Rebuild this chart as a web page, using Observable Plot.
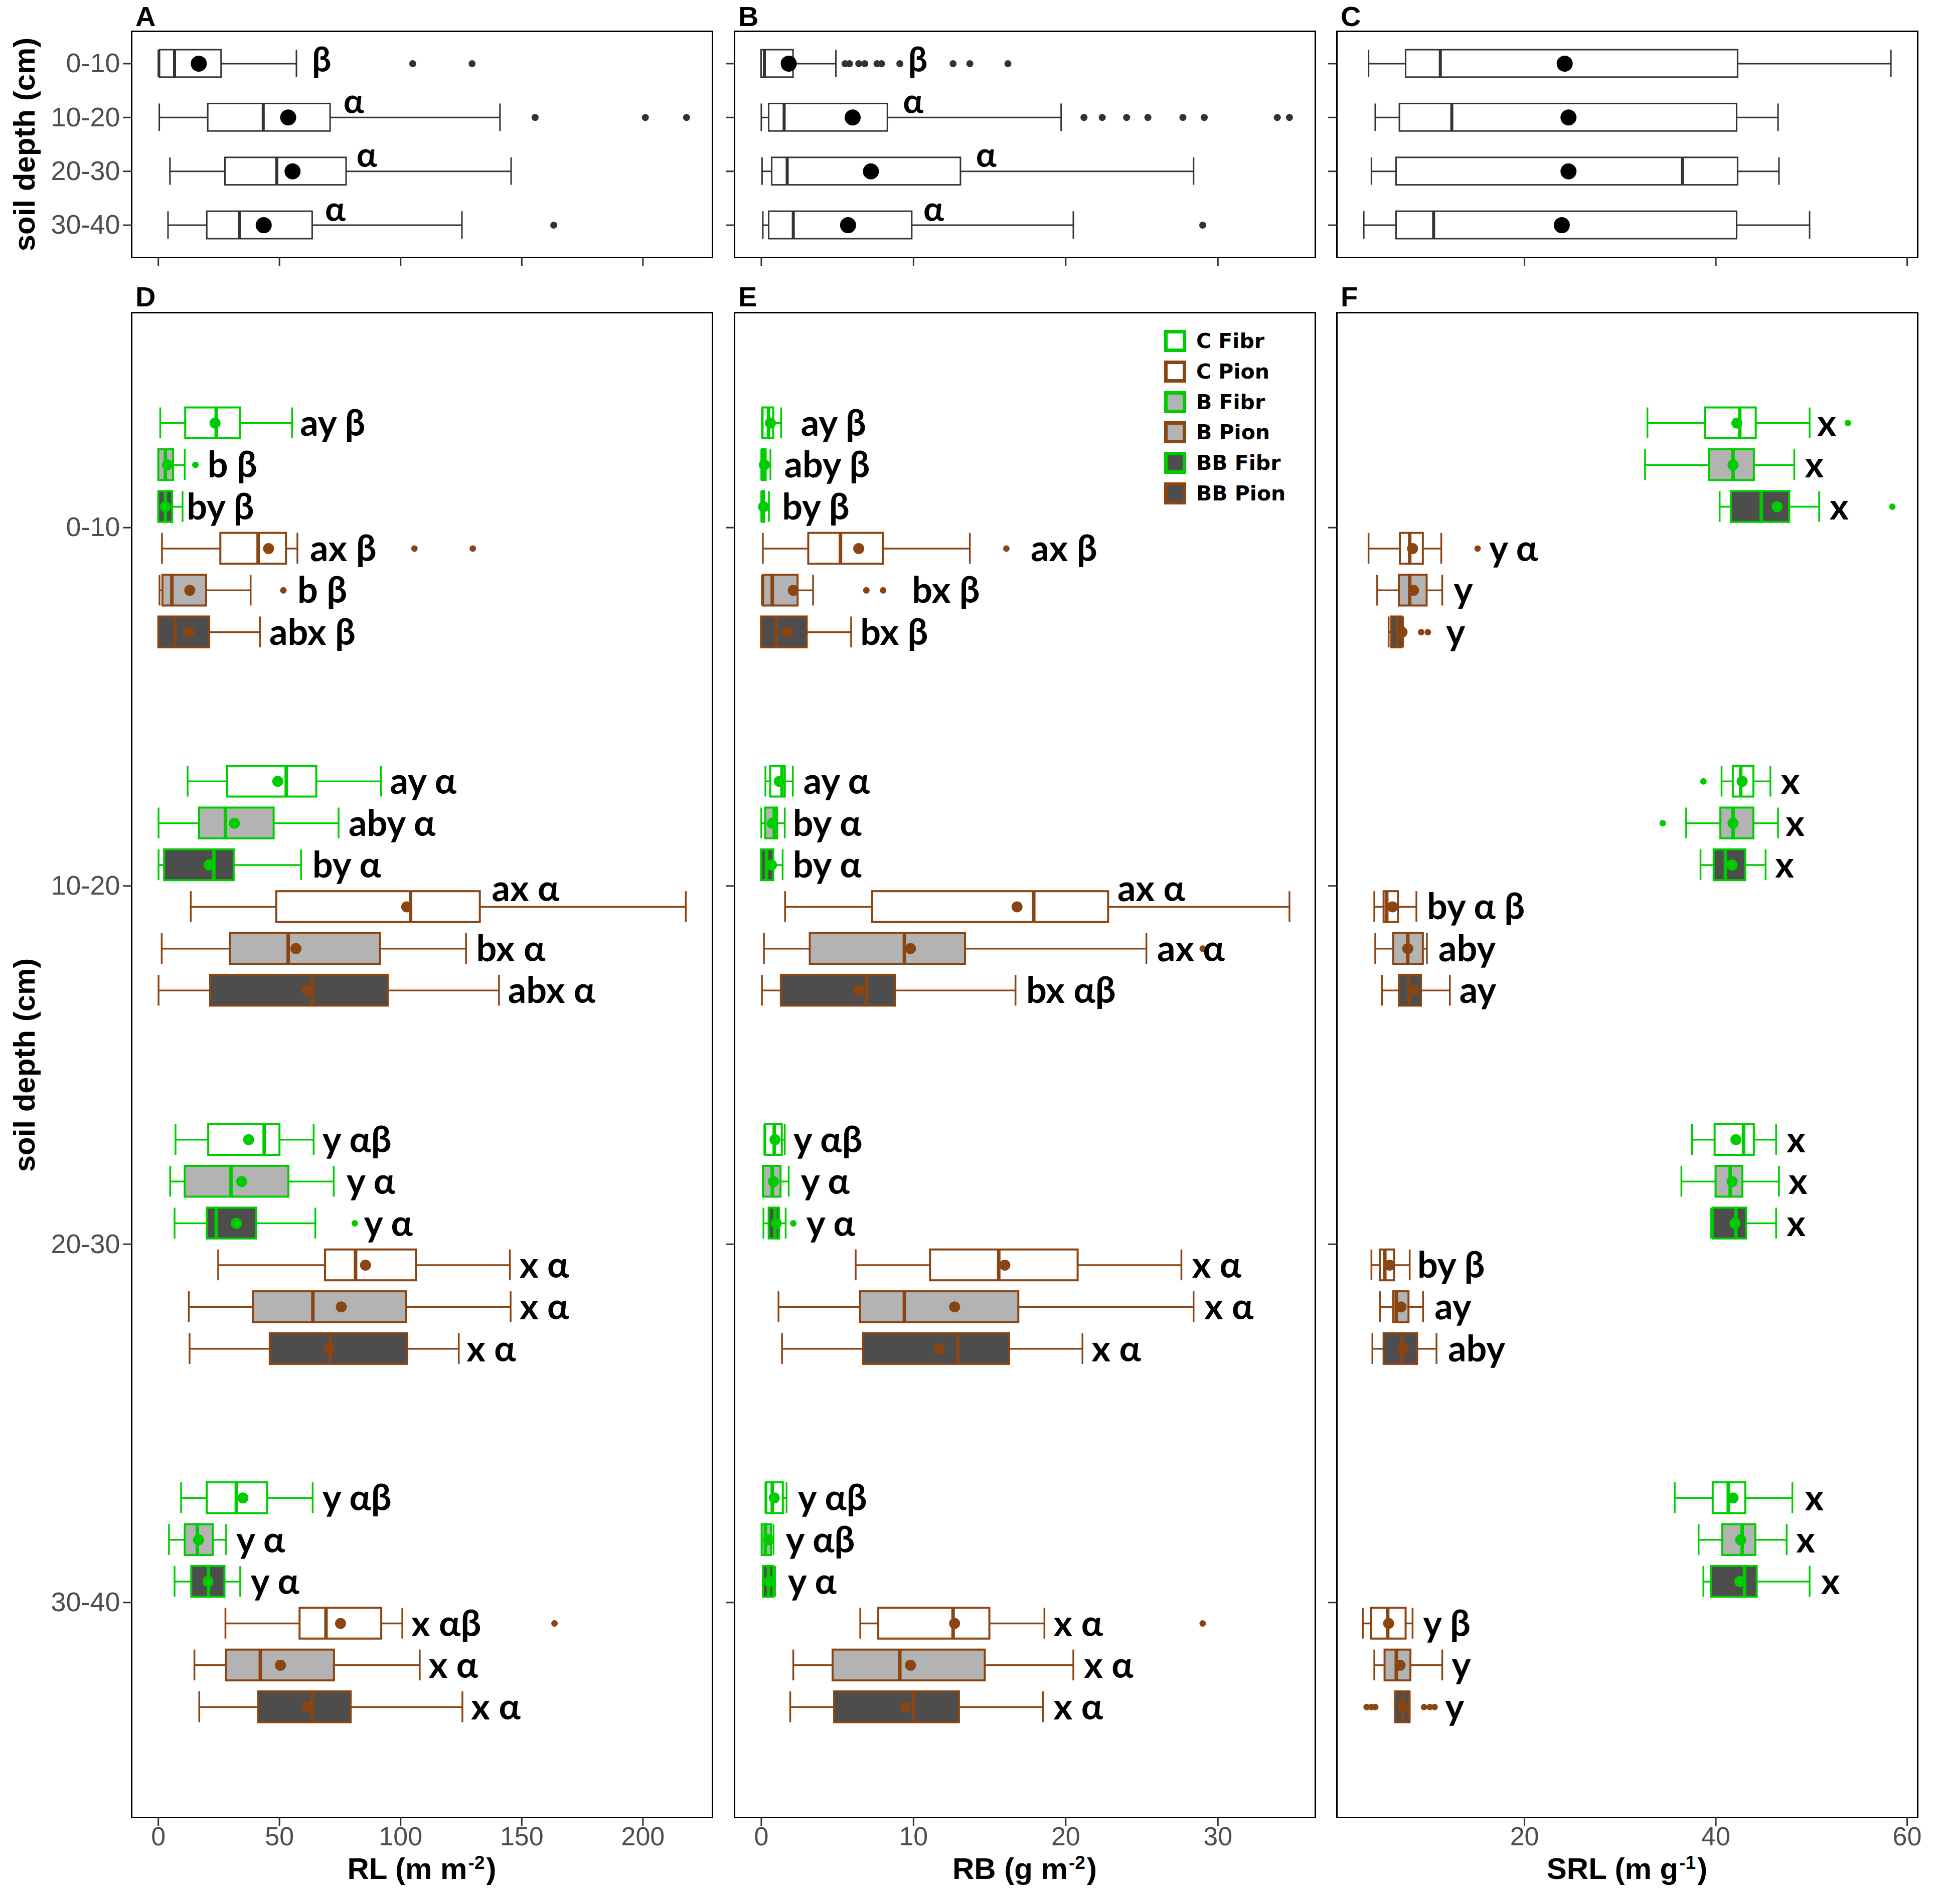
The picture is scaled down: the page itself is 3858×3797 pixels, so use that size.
<!DOCTYPE html>
<html>
<head>
<meta charset="utf-8">
<script src="https://cdn.jsdelivr.net/npm/d3@7"></script>
<script src="https://cdn.jsdelivr.net/npm/@observablehq/plot@0.6"></script>
<style>
  html, body { margin: 0; padding: 0; background: #fff; }
  #root { position: relative; width: 3858px; height: 3797px; background: #fff; overflow: hidden;
          font-family: "Liberation Sans", Arial, sans-serif; color: #000; }
  .pan { position: absolute; }
  .pan svg { overflow: visible; }
  .letter { position: absolute; font-weight: bold; font-size: 56px; line-height: 1; transform: translateY(-50%); }
  .xtitle { position: absolute; font-weight: bold; font-size: 60px; white-space: nowrap; transform: translate(-50%, -50%); line-height: 1; }
  .xtitle .sup { display: inline-block; font-size: 0.62em; line-height: 1; position: relative; top: -0.55em; margin: 0 3px 0 2px; }
  .ytitle { position: absolute; font-weight: bold; font-size: 60px; white-space: nowrap; line-height: 1;
            transform: translate(-50%, -50%) rotate(-90deg); }
  .legend { position: absolute; font-family: "DejaVu Sans", Verdana, sans-serif; font-weight: bold; font-size: 41px; }
  .legend .item { position: absolute; display: flex; align-items: center; white-space: nowrap; transform: translateY(-50%); }
  .legend svg { display: block; margin-right: 20px; }
</style>
</head>
<body>
<div id="root"></div>
<script>
// ---------------- data ----------------
const depths = ["0-10", "10-20", "20-30", "30-40"];
const groups = ["C Fibr", "B Fibr", "BB Fibr", "C Pion", "B Pion", "BB Pion"];
const groupTreatment = ["C", "B", "BB", "C", "B", "BB"];
const groupSpecies = ["Fibr", "Fibr", "Fibr", "Pion", "Pion", "Pion"];
const legendOrder = ["C Fibr", "C Pion", "B Fibr", "B Pion", "BB Fibr", "BB Pion"];

// box statistics: [lower whisker, Q1, median, Q3, upper whisker, mean]
// ---- pooled by depth (panels A, B, C)
const rlPooledStats = [[0, 0.6, 6.7, 26, 57, 16.7], [0.4, 20.5, 43.3, 71, 141, 53.6], [4.8, 27.6, 48.9, 77.6, 145.6, 55.4], [4, 20.1, 33.5, 63.6, 125.3, 43.5]];
const rlPooledOutliers = [[105, 129.5], [155.5, 201, 218], [], [163.2]];
const rlPooledLetters = ["β", "α", "α", "α"];
const rlPooledLetterAt = [63.4, 76.4, 81.8, 68.8];

const rbPooledStats = [[0, 0, 0.2, 2.1, 4.9, 1.8], [0, 0.5, 1.5, 8.3, 19.7, 6.0], [0.05, 0.7, 1.7, 13.1, 28.4, 7.2], [0.1, 0.5, 2.1, 9.9, 20.5, 5.7]];
const rbPooledOutliers = [[5.5, 5.8, 6.4, 6.8, 7.6, 7.9, 9.1, 12.6, 13.7, 16.2], [21.2, 22.4, 24.0, 25.4, 27.7, 29.1, 33.9, 34.7], [], [29.0]];
const rbPooledLetters = ["β", "α", "α", "α"];
const rbPooledLetterAt = [9.65, 9.3, 14.1, 10.65];

const srlPooledStats = [[3.7, 7.6, 11.2, 42.3, 58.3, 24.2], [4.4, 6.95, 12.4, 42.2, 46.5, 24.6], [4.0, 6.6, 36.5, 42.3, 46.6, 24.6], [3.2, 6.6, 10.5, 42.2, 49.8, 23.9]];
const srlPooledOutliers = [[], [], [], []];
const srlPooledLetters = ["", "", "", ""];
const srlPooledLetterAt = [0, 0, 0, 0];

// ---- by treatment x species (panels D, E, F); rows follow `groups`
const rlStats = [
  [[0.8, 11.2, 23.9, 33.8, 55.2, 23.4], [0.1, 0.1, 2.9, 6.2, 10.9, 3.8], [0.1, 0.1, 2.9, 5.8, 10.0, 2.9], [1.5, 25.7, 41.2, 52.8, 57.4, 45.5], [0.5, 1.8, 5.6, 19.8, 38.1, 13.0], [0.1, 0.1, 6.9, 21.1, 42.0, 12.5]],
  [[12.1, 28.5, 52.8, 65.3, 91.9, 49.3], [0.1, 16.9, 27.7, 47.7, 74.4, 31.4], [0.1, 2.5, 22.9, 31.2, 58.9, 21.0], [13.4, 48.8, 104.1, 132.8, 217.7, 102.5], [1.4, 29.6, 53.6, 91.6, 127.0, 56.8], [0.1, 21.5, 63.6, 94.8, 140.6, 61.3]],
  [[7.1, 20.7, 43.7, 50.1, 64.1, 37.3], [4.9, 11.0, 30.0, 53.8, 72.4, 34.4], [6.7, 20.1, 23.9, 40.5, 64.8, 32.2], [24.7, 68.9, 81.4, 106.4, 145.1, 85.5], [12.6, 39.2, 63.8, 102.3, 145.4, 75.5], [12.9, 46.1, 71.0, 102.8, 124.0, 70.5]],
  [[9.4, 20.1, 32.2, 45.0, 63.7, 34.9], [4.4, 11.0, 16.1, 22.6, 28.0, 16.6], [6.7, 13.7, 20.7, 27.4, 33.8, 20.5], [27.7, 58.4, 69.2, 92.1, 100.7, 75.2], [14.9, 28.0, 42.1, 72.6, 107.9, 50.4], [16.9, 41.3, 63.6, 79.5, 125.5, 61.6]]
];
const rlOutliers = [
  [[], [15.3], [], [105.7, 129.8], [51.6], []],
  [[], [], [], [], [], []],
  [[], [], [81.1], [], [], []],
  [[], [], [], [163.5], [], []]
];
const rlLetters = [
  ["ay β", "b β", "by β", "ax β", "b β", "abx β"],
  ["ay α", "aby α", "by α", "ax α", "bx α", "abx α"],
  ["y αβ", "y α", "y α", "x α", "x α", "x α"],
  ["y αβ", "y α", "y α", "x αβ", "x α", "x α"]
];
const rlLetterAt = [
  [58.5, 20.3, 11.7, 62.6, 57.4, 45.8],
  [95.6, 78.5, 63.6, 137.6, 131.2, 144.3],
  [67.7, 77.7, 84.9, 149.1, 149.1, 127.2],
  [67.7, 32.2, 38.1, 104.4, 111.6, 129.1]
];

const rbStats = [
  [[0.04, 0.1, 0.47, 0.8, 1.3, 0.6], [0, 0.05, 0.15, 0.3, 0.6, 0.2], [0, 0.05, 0.1, 0.2, 0.5, 0.15], [0.1, 3.1, 5.2, 8.0, 13.7, 6.4], [0.04, 0.14, 0.72, 2.4, 3.4, 2.1], [0, 0, 1.0, 3.0, 5.9, 1.7]],
  [[0.27, 0.6, 1.36, 1.56, 2.07, 1.18], [0, 0.27, 0.85, 1.05, 1.54, 0.72], [0, 0, 0.34, 0.8, 1.4, 0.67], [1.56, 7.3, 17.9, 22.8, 34.7, 16.8], [0.17, 3.2, 9.4, 13.4, 25.3, 9.8], [0.04, 1.3, 6.9, 8.8, 16.7, 6.4]],
  [[0.2, 0.27, 0.85, 1.36, 1.54, 0.9], [0.1, 0.14, 0.72, 1.28, 1.8, 0.8], [0.14, 0.5, 0.9, 1.18, 1.6, 0.98], [6.2, 11.1, 15.6, 20.8, 27.6, 16.0], [1.13, 6.5, 9.4, 16.9, 28.4, 12.7], [1.36, 6.7, 12.9, 16.3, 21.1, 11.7]],
  [[0.27, 0.34, 0.72, 1.43, 1.66, 0.85], [0.04, 0.04, 0.27, 0.65, 0.8, 0.47], [0.1, 0.14, 0.47, 0.8, 0.9, 0.52], [6.5, 7.7, 12.6, 15.0, 18.6, 12.7], [2.1, 4.7, 9.1, 14.7, 20.5, 9.8], [1.9, 4.8, 10.0, 13.0, 18.5, 9.5]]
];
const rbOutliers = [
  [[], [], [], [16.1], [6.9, 8.0], []],
  [[], [], [], [], [29.0], []],
  [[], [], [2.1], [], [], []],
  [[], [], [], [29.0], [], []]
];
const rbLetters = [
  ["ay β", "aby β", "by β", "ax β", "bx β", "bx β"],
  ["ay α", "by α", "by α", "ax α", "ax α", "bx αβ"],
  ["y αβ", "y α", "y α", "x α", "x α", "x α"],
  ["y αβ", "y αβ", "y α", "x α", "x α", "x α"]
];
const rbLetterAt = [
  [2.6, 1.5, 1.36, 17.7, 9.9, 6.5],
  [2.76, 2.07, 2.07, 23.4, 26.0, 17.4],
  [2.1, 2.6, 2.96, 28.3, 29.1, 21.7],
  [2.4, 1.6, 1.74, 19.2, 21.2, 19.2]
];

const srlStats = [
  [[32.85, 38.9, 42.5, 44.2, 49.8, 42.2], [32.6, 39.3, 41.8, 44.0, 48.2, 41.8], [40.4, 41.6, 44.75, 47.7, 50.8, 46.4], [3.7, 7.0, 8.0, 9.4, 11.3, 8.3], [4.6, 6.9, 8.0, 9.8, 11.4, 8.4], [5.8, 6.1, 6.7, 7.2, 7.3, 7.2]],
  [[40.6, 41.8, 42.6, 43.95, 45.7, 42.75], [36.9, 40.5, 41.8, 43.95, 46.5, 41.8], [38.4, 39.8, 41.0, 43.1, 45.2, 41.7], [4.3, 5.3, 5.6, 6.8, 8.7, 6.2], [4.4, 6.3, 7.8, 9.4, 9.8, 7.8], [5.1, 6.9, 7.9, 9.2, 12.2, 8.4]],
  [[37.5, 39.9, 42.9, 44.0, 46.3, 42.1], [36.4, 40.0, 41.5, 42.8, 46.6, 41.7], [39.5, 39.7, 42.1, 43.2, 46.3, 42.0], [4.0, 4.9, 5.4, 6.4, 8.0, 5.9], [4.9, 6.3, 6.6, 7.9, 9.4, 7.1], [4.1, 5.3, 7.2, 8.8, 10.8, 7.3]],
  [[35.7, 39.7, 41.3, 43.1, 48.0, 41.8], [38.2, 40.7, 42.75, 44.15, 47.4, 42.6], [38.7, 39.5, 43.0, 44.3, 49.8, 42.5], [3.1, 4.0, 5.7, 7.6, 8.3, 5.8], [4.3, 5.4, 6.6, 8.1, 11.4, 7.0], [6.5, 6.5, 7.3, 8.0, 8.0, 7.3]]
];
const srlOutliers = [
  [[53.8], [], [58.45], [15.1], [], [9.2, 9.9]],
  [[38.7], [34.45], [], [], [], []],
  [[], [], [], [], [], []],
  [[], [], [], [], [], [3.5, 4.0, 4.4, 9.5, 10.1, 10.6]]
];
const srlLetters = [
  ["x", "x", "x", "y α", "y", "y"],
  ["x", "x", "x", "by α β", "aby", "ay"],
  ["x", "x", "x", "by β", "ay", "aby"],
  ["x", "x", "x", "y β", "y", "y"]
];
const srlLetterAt = [
  [50.6, 49.3, 51.9, 16.3, 12.6, 11.8],
  [46.8, 47.3, 46.2, 9.8, 11.0, 13.2],
  [47.4, 47.6, 47.4, 8.8, 10.6, 12.0],
  [49.3, 48.4, 51.0, 9.4, 12.4, 11.7]
];

// letters that sit above their box rather than beside it
const raisedLetters = ["RL|10-20|C Pion", "RB|10-20|C Pion"];

// axis ticks
const rlTicks = [0, 50, 100, 150, 200];
const rbTicks = [0, 10, 20, 30];
const srlTicks = [20, 40, 60];

// ---------------- layout / style ----------------
const SLOT = 0.1167;      // dodge step between the six boxes of one depth
const HALF = 0.043;       // half box thickness (bottom panels)
const HALF_TOP = 0.255;   // half box thickness (top panels)
const GREEN = "#00CD00", BROWN = "#8B4513";
const colorScale = {domain: ["Fibr", "Pion", "C", "B", "BB"], range: [GREEN, BROWN, "#FFFFFF", "#B3B3B3", "#4D4D4D"]};

const cols = [{left: 262, w: 1158}, {left: 1464, w: 1158}, {left: 2665, w: 1158}];
const topRow = {top: 62, h: 451};
const botRow = {top: 623, h: 3001};

const root = document.getElementById("root");

function pooledRows(stats, outs, letters, at) {
  const rows = [], outRows = [];
  depths.forEach((d, di) => {
    const [lo, q1, med, q3, hi, mean] = stats[di];
    rows.push({depth: d, pos: di, lo, q1, med, q3, hi, mean, letter: letters[di], at: at[di]});
    outs[di].forEach(v => outRows.push({pos: di, v}));
  });
  return {rows, outRows};
}

function groupRows(key, stats, outs, letters, at) {
  const rows = [], outRows = [];
  depths.forEach((d, di) => groups.forEach((g, gi) => {
    const [lo, q1, med, q3, hi, mean] = stats[di][gi];
    const pos = di + (gi - 2.5) * SLOT;
    rows.push({depth: d, group: g, pos, lo, q1, med, q3, hi, mean,
      species: groupSpecies[gi], trt: groupTreatment[gi],
      letter: letters[di][gi], at: at[di][gi],
      raised: raisedLetters.includes(`${key}|${d}|${g}`)});
    outs[di][gi].forEach(v => outRows.push({pos, v, species: groupSpecies[gi]}));
  }));
  return {rows, outRows};
}

function makePanel({col, row, domain, ticks, xLabels, yLabels, marks}) {
  const mL = yLabels ? 240 : 40, mR = 20, mT = 20, mB = xLabels ? 100 : 40;
  const svg = Plot.plot({
    width: col.w + mL + mR, height: row.h + mT + mB,
    marginLeft: mL, marginRight: mR, marginTop: mT, marginBottom: mB,
    style: {background: "transparent", fontFamily: "'Liberation Sans', Arial, sans-serif", overflow: "visible"},
    x: {domain},
    y: {domain: [3.6, -0.6]},
    color: colorScale,
    marks: [
      ...marks,
      Plot.frame({stroke: "#000", strokeWidth: 3}),
      Plot.axisX({ticks, tickSize: 17, tickPadding: 2, fontSize: 52, stroke: "#333", strokeWidth: 3,
        fill: "#4D4D4D", tickFormat: xLabels ? (d => String(d)) : (() => ""), label: null}),
      Plot.axisY({ticks: [0, 1, 2, 3], tickSize: 17, tickPadding: 6, fontSize: 54, stroke: "#333", strokeWidth: 3,
        fill: "#4D4D4D", tickFormat: yLabels ? (i => depths[i]) : (() => ""), label: null})
    ]
  });
  const div = document.createElement("div");
  div.className = "pan";
  div.style.left = (col.left - mL) + "px";
  div.style.top = (row.top - mT) + "px";
  div.appendChild(svg);
  root.appendChild(div);
}

function pooledMarks({rows, outRows}) {
  const lbl = rows.filter(d => d.letter);
  return [
    Plot.ruleY(rows, {y: "pos", x1: "lo", x2: "q1", stroke: "#333", strokeWidth: 3}),
    Plot.ruleY(rows, {y: "pos", x1: "q3", x2: "hi", stroke: "#333", strokeWidth: 3}),
    Plot.ruleX(rows, {x: "lo", y1: d => d.pos - HALF_TOP, y2: d => d.pos + HALF_TOP, stroke: "#333", strokeWidth: 3}),
    Plot.ruleX(rows, {x: "hi", y1: d => d.pos - HALF_TOP, y2: d => d.pos + HALF_TOP, stroke: "#333", strokeWidth: 3}),
    Plot.rect(rows, {x1: "q1", x2: "q3", y1: d => d.pos - HALF_TOP, y2: d => d.pos + HALF_TOP, fill: "#fff", stroke: "#333", strokeWidth: 3}),
    Plot.ruleX(rows, {x: "med", y1: d => d.pos - HALF_TOP, y2: d => d.pos + HALF_TOP, stroke: "#333", strokeWidth: 6}),
    Plot.dot(outRows, {x: "v", y: "pos", r: 7, fill: "#333", stroke: null}),
    Plot.dot(rows, {x: "mean", y: "pos", r: 16, fill: "#000", stroke: null}),
    Plot.text(lbl.filter(d => d.letter === "β"), {x: "at", y: "pos", text: "letter", textAnchor: "start", fontSize: 68,
      fontWeight: "bold", fontFamily: "Lato, 'Open Sans', sans-serif", fill: "#000", dy: -6}),
    Plot.text(lbl.filter(d => d.letter !== "β"), {x: "at", y: "pos", text: "letter", textAnchor: "start", fontSize: 68,
      fontWeight: "bold", fontFamily: "Lato, 'Open Sans', sans-serif", fill: "#000", dy: -30})
  ];
}

function groupMarks({rows, outRows}) {
  const y1 = d => d.pos - HALF, y2 = d => d.pos + HALF;
  const textOpts = {x: "at", y: "pos", text: "letter", textAnchor: "start", fontSize: 72,
    fontWeight: "bold", fontFamily: "Lato, 'Open Sans', sans-serif", fill: "#000"};
  return [
    Plot.ruleY(rows, {y: "pos", x1: "lo", x2: "q1", stroke: "species", strokeWidth: 3.5}),
    Plot.ruleY(rows, {y: "pos", x1: "q3", x2: "hi", stroke: "species", strokeWidth: 3.5}),
    Plot.ruleX(rows, {x: "lo", y1, y2, stroke: "species", strokeWidth: 3.5}),
    Plot.ruleX(rows, {x: "hi", y1, y2, stroke: "species", strokeWidth: 3.5}),
    Plot.rect(rows, {x1: "q1", x2: "q3", y1, y2, fill: "trt", stroke: "species", strokeWidth: 4}),
    Plot.ruleX(rows, {x: "med", y1, y2, stroke: "species", strokeWidth: 7}),
    Plot.dot(outRows, {x: "v", y: "pos", r: 6.5, fill: "species", stroke: null}),
    Plot.dot(rows, {x: "mean", y: "pos", r: 11, fill: "species", stroke: null}),
    Plot.text(rows.filter(d => !d.raised), {...textOpts, dy: 2}),
    Plot.text(rows.filter(d => d.raised), {...textOpts, dy: -34})
  ];
}

// top row
makePanel({col: cols[0], row: topRow, domain: [-11.0, 228.7], ticks: rlTicks, xLabels: false, yLabels: true,
  marks: pooledMarks(pooledRows(rlPooledStats, rlPooledOutliers, rlPooledLetters, rlPooledLetterAt))});
makePanel({col: cols[1], row: topRow, domain: [-1.76, 36.4], ticks: rbTicks, xLabels: false, yLabels: false,
  marks: pooledMarks(pooledRows(rbPooledStats, rbPooledOutliers, rbPooledLetters, rbPooledLetterAt))});
makePanel({col: cols[2], row: topRow, domain: [0.39, 61.1], ticks: srlTicks, xLabels: false, yLabels: false,
  marks: pooledMarks(pooledRows(srlPooledStats, srlPooledOutliers, srlPooledLetters, srlPooledLetterAt))});
// bottom row
makePanel({col: cols[0], row: botRow, domain: [-11.0, 228.7], ticks: rlTicks, xLabels: true, yLabels: true,
  marks: groupMarks(groupRows("RL", rlStats, rlOutliers, rlLetters, rlLetterAt))});
makePanel({col: cols[1], row: botRow, domain: [-1.76, 36.4], ticks: rbTicks, xLabels: true, yLabels: false,
  marks: groupMarks(groupRows("RB", rbStats, rbOutliers, rbLetters, rbLetterAt))});
makePanel({col: cols[2], row: botRow, domain: [0.39, 61.1], ticks: srlTicks, xLabels: true, yLabels: false,
  marks: groupMarks(groupRows("SRL", srlStats, srlOutliers, srlLetters, srlLetterAt))});

// panel letters
const panelLetters = ["A", "B", "C", "D", "E", "F"];
panelLetters.forEach((t, i) => {
  const el = document.createElement("div");
  el.className = "letter";
  el.textContent = t;
  el.style.left = (cols[i % 3].left + 8) + "px";
  el.style.top = (i < 3 ? 33 : 592) + "px";
  root.appendChild(el);
});

// axis titles
const xTitles = [["RL (m m", "-2", ")"], ["RB (g m", "-2", ")"], ["SRL (m g", "-1", ")"]];
xTitles.forEach(([a, s, b], i) => {
  const el = document.createElement("div");
  el.className = "xtitle";
  el.innerHTML = `${a}<span class="sup">${s}</span>${b}`;
  el.style.left = (cols[i].left + cols[i].w / 2) + "px";
  el.style.top = "3727px";
  root.appendChild(el);
});
[topRow, botRow].forEach(r => {
  const el = document.createElement("div");
  el.className = "ytitle";
  el.textContent = "soil depth (cm)";
  el.style.left = "49px";
  el.style.top = (r.top + r.h / 2) + "px";
  root.appendChild(el);
});

// legend (inside panel E)
const legend = document.createElement("div");
legend.className = "legend";
legend.style.left = "2321px";
legend.style.top = "0px";
legendOrder.forEach((g, i) => {
  const gi = groups.indexOf(g);
  const stroke = colorScale.range[colorScale.domain.indexOf(groupSpecies[gi])];
  const fill = colorScale.range[colorScale.domain.indexOf(groupTreatment[gi])];
  const item = document.createElement("div");
  item.className = "item";
  item.style.top = (680 + i * 60.8) + "px";
  item.innerHTML = `<svg width="44" height="44"><rect x="3.5" y="3.5" width="37" height="37" fill="${fill}" stroke="${stroke}" stroke-width="7"/></svg><span>${g}</span>`;
  legend.appendChild(item);
});
root.appendChild(legend);
</script>
</body>
</html>
